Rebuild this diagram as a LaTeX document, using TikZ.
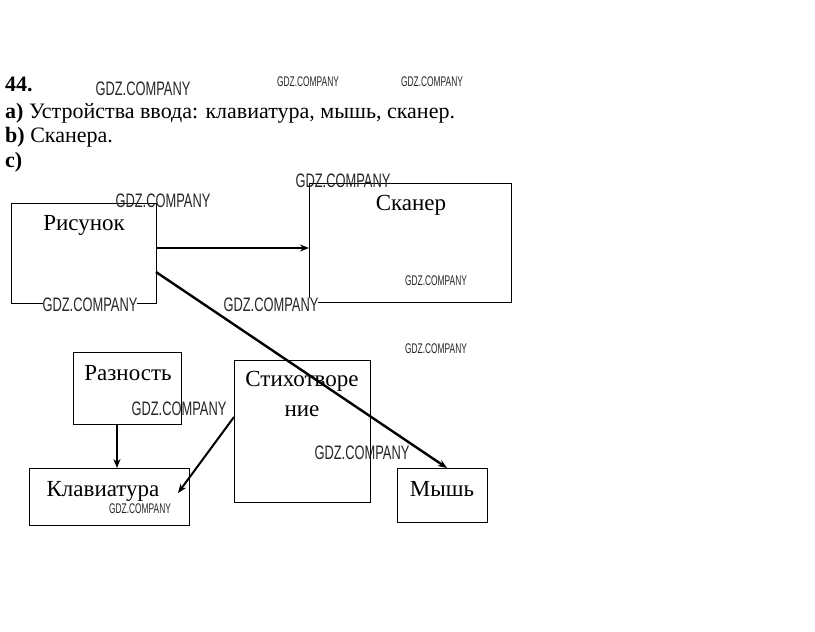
\documentclass[tikz,border=0pt]{standalone}
\usepackage{fontspec}
\setmainfont{Liberation Serif}
\newfontfamily\wmfont{Liberation Sans}
\usetikzlibrary{arrows.meta}
\begin{document}
\begin{tikzpicture}[x=1pt,y=-1pt,
  box/.style={draw, line width=1pt, anchor=north west, inner sep=0pt},
  lbl/.style={font=\fontsize{23}{25}\selectfont, inner sep=0pt, anchor=base},
  hdr/.style={font=\fontsize{22}{24}\selectfont, inner sep=0pt, anchor=base west},
  arr/.style={line width=2.4pt, -{Stealth[length=9pt,width=7pt]}},
  wmbig/.style={font=\wmfont\fontsize{19.5}{20}\selectfont, xscale=0.66, inner sep=0pt, text=black!85},
  wmsmall/.style={font=\wmfont\fontsize{14}{15}\selectfont, xscale=0.6, inner sep=0pt, text=black!85}]
\useasboundingbox[fill=white] (0,0) rectangle (815,632);
% header text
\node[hdr] (t44) at (5,91) {\textbf{44.}};
\node[hdr] (ta) at (5,118) {\textbf{a)} Устройства ввода: клавиатура, мышь, сканер.};
\node[hdr] (tb) at (5,142) {\textbf{b)} Сканера.};
\node[hdr] (tc) at (5,167) {\textbf{c)}};
% boxes
\node[box, minimum width=145, minimum height=100] (ris) at (11,203) {};
\node[box, minimum width=202, minimum height=119] (skan) at (309,183) {};
\node[box, minimum width=108, minimum height=72] (raz) at (73,352) {};
\node[box, minimum width=136, minimum height=142] (stih) at (234,360) {};
\node[box, minimum width=160, minimum height=57] (klav) at (29,468) {};
\node[box, minimum width=90, minimum height=54] (mysh) at (397,468) {};
% labels
\node[lbl] (lris) at (84,230) {Рисунок};
\node[lbl] (lskan) at (411,210) {Сканер};
\node[lbl] (lraz) at (128,380) {Разность};
\node[lbl] (lstih1) at (302,386) {Стихотворе};
\node[lbl] (lstih2) at (302,416) {ние};
\node[lbl] (lklav) at (103,496) {Клавиатура};
\node[lbl] (lmysh) at (442,496) {Мышь};
% connectors
\coordinate (a1) at (156,248);
\coordinate (a2) at (309,248);
\coordinate (b1) at (156,272);
\coordinate (b2) at (447,468);
\coordinate (c1) at (117,424);
\coordinate (c2) at (117,468);
\coordinate (d1) at (234,417);
\coordinate (d2) at (178,493);
\draw[arr] (a1) -- (a2);
\draw[arr] (b1) -- (b2);
\draw[arr] (c1) -- (c2);
\draw[arr, line width=2pt] (d1) -- (d2);
% watermarks
\node[wmbig] (w1) at (143,89) {GDZ.COMPANY};
\node[wmsmall] (w2) at (308,82) {GDZ.COMPANY};
\node[wmsmall] (w3) at (432,82) {GDZ.COMPANY};
\node[wmbig] (w4) at (163,201) {GDZ.COMPANY};
\node[wmbig] (w5) at (343,181) {GDZ.COMPANY};
\node[wmsmall] (w6) at (436,281) {GDZ.COMPANY};
\node[wmbig, fill=white] (w7) at (90,305) {GDZ.COMPANY};
\node[wmbig, fill=white] (w8) at (271,305) {GDZ.COMPANY};
\node[wmsmall] (w9) at (436,349) {GDZ.COMPANY};
\node[wmbig] (w10) at (179,409) {GDZ.COMPANY};
\node[wmbig] (w11) at (362,453) {GDZ.COMPANY};
\node[wmsmall] (w12) at (140,509) {GDZ.COMPANY};
\end{tikzpicture}
\end{document}
